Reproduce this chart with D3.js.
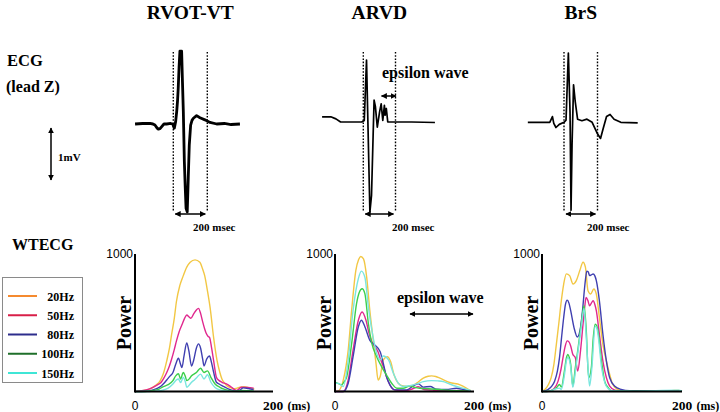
<!DOCTYPE html>
<html><head><meta charset="utf-8">
<script src="https://cdn.jsdelivr.net/npm/d3@7"></script>
<style>body{margin:0;background:#fff}svg{display:block}</style>
</head><body><svg id="c" width="720" height="412"></svg>
<script>
// ---------- DATA ----------
const conditions = ["RVOT-VT", "ARVD", "BrS"];
const freqLabels = ["20Hz", "50Hz", "80Hz", "100Hz", "150Hz"];
const seriesColors = ["#f2c744", "#e0288e", "#3f3fb0", "#3ccf4c", "#7ae6df"];
const legendColors = ["#f58a2f", "#d81f48", "#2d2d8c", "#1f6f2a", "#3fe6d6"];
const powerTicks = ["0", "1000"];
const timeTickLabel = "200";

// ECG (lead Z): [ms relative to QRS onset, mV]
const ecgRVOT = [[-225,0],[-180,0.01],[-137,0.01],[-120,0],[-108,-0.02],[-95,-0.08],[-88,-0.1],[-78,-0.09],[-68,-0.05],[-55,0],[-39,0],[-15,0.01],[-4,0],[6,-0.08],[14,0.05],[20,0.24],[25,0.45],[29,0.69],[34,1.1],[39,1.4],[49,1.4],[54,0.8],[59,0.24],[65,-0.72],[70,-1.2],[75,-1.62],[82,-1.69],[88,-1.04],[94,-0.4],[102,-0.02],[110,0.07],[118,0.11],[137,0.16],[157,0.12],[186,0.08],[216,0.03],[255,0],[300,0.01],[340,-0.01],[392,0]];
const ecgARVD = [[-256,0.1],[-202,0.1],[-170,0.06],[-141,0],[-10,0],[6,0.03],[20,1.19],[41,-1.73],[51,-1.41],[61,-0.26],[67,0.42],[75,0.3],[87,-0.1],[101,0.19],[111,0.35],[121,0.03],[131,0.32],[135,0.13],[143,0.26],[152,0],[162,0],[300,0],[445,-0.01]];
const ecgBrS = [[-216,0],[-120,0],[-85,0],[-69,0.11],[-61,-0.02],[-48,-0.1],[-28,-0.04],[0,0],[12,0.04],[26,1.33],[36,0.2],[42,-1.69],[48,-0.44],[57,0.72],[67,0.4],[81,0.06],[107,0.03],[137,0.06],[168,0],[198,-0.21],[218,-0.31],[234,-0.12],[254,0.11],[275,0.15],[299,0.06],[339,0],[440,-0.01]];

// WTECG power: [ms, power]
const rvot20 = [[0,0],[7,3],[15,10],[22,20],[30,45],[36,75],[41,130],[46,225],[50,320],[53,418],[57,540],[60,660],[65,780],[70,852],[75,915],[80,950],[87,968],[94,950],[98,900],[101,852],[105,740],[109,611],[114,394],[119,225],[123,140],[126,92],[130,60],[133,43],[138,28],[143,19],[148,25],[152,31],[158,35],[165,28],[171,19],[173,18]];
const rvot50 = [[0,0],[12,7],[20,18],[26,31],[33,50],[38,68],[42,100],[46,140],[50,190],[53,237],[57,310],[60,370],[64,440],[68,490],[72,540],[75,563],[78,550],[81,538],[85,570],[89,600],[92,611],[95,575],[98,514],[101,460],[103,430],[106,405],[108,398],[111,320],[114,225],[118,104],[122,80],[126,68],[133,55],[140,31],[147,7],[154,31],[163,30],[172,25]];
const rvot80 = [[0,0],[15,2],[25,10],[33,25],[38,40],[42,60],[46,85],[51,115],[55,140],[59,200],[63,244],[66,200],[68,176],[71,260],[75,357],[78,300],[82,188],[85,230],[89,320],[92,350],[95,320],[98,240],[100,188],[104,240],[108,261],[111,210],[114,140],[118,68],[122,55],[126,43],[131,30],[135,19],[141,8],[147,3],[152,10],[157,27],[164,22],[172,15]];
const rvot100 = [[0,0],[15,0],[27,8],[35,18],[41,36],[48,50],[55,80],[59,115],[63,130],[66,92],[70,140],[73,110],[75,80],[79,95],[82,116],[86,130],[89,140],[95,171],[100,140],[105,152],[110,104],[116,55],[123,31],[130,15],[137,5],[145,2],[155,8],[165,6],[172,4]];
const rvot150 = [[0,0],[20,0],[30,3],[40,10],[48,25],[55,55],[60,85],[63,92],[66,65],[70,104],[73,70],[75,31],[79,50],[82,68],[86,85],[89,100],[95,128],[100,92],[105,123],[110,68],[116,30],[123,12],[135,3],[150,0],[172,3]];

const arvd20 = [[0,2],[5,5],[12,85],[16,190],[19,305],[24,600],[30,890],[34,970],[37,993],[41,975],[45.6,840],[50,600],[55,378],[59,207],[62,85],[65,110],[69.5,232],[75,256],[80,220],[85,122],[91,61],[98,41],[108,37],[117.5,61],[127,98],[134,112],[139,115],[145,110],[151,98],[165,66],[180,49],[189.5,24],[195,7]];
const arvd50 = [[0,0],[12,0],[19,85],[26,305],[33.6,524],[39,585],[44.6,524],[49,427],[53,366],[57.5,330],[62,290],[66,230],[70,180],[74,110],[79,49],[86,12],[100,5],[112,20],[120,35],[128,15],[140,10],[160,5],[180,8],[195,3]];
const arvd80 = [[0,0],[12,0],[19,61],[26,256],[33.6,476],[38,524],[43,476],[50,378],[57.5,341],[65,293],[69.5,207],[74,110],[79,49],[86,12],[103,12],[112.7,41],[120,56],[127,32],[137,37],[146,17],[160,15],[175,24],[185,15],[195,5]];
const arvd100 = [[0,66],[4,60],[9.6,49],[13,70],[17,110],[24,354],[31,646],[35,730],[39,756],[43,720],[48,500],[53,354],[60,256],[67,183],[74,122],[81.5,61],[89,24],[98,24],[108,41],[115,30],[122,24],[135,20],[150,15],[165,8],[180,5],[195,3]];
const arvd150 = [[0,60],[5,60],[12,37],[19,232],[26,598],[30,740],[33.6,830],[38,885],[43,840],[48,622],[53,451],[60,280],[65,232],[69.5,261],[73,255],[77,232],[84,134],[91,61],[98,37],[105,40],[112.7,49],[120,60],[127,73],[139,80],[148,78],[156,73],[165,55],[175,37],[189,17],[195,8]];

const brs20 = [[0,5],[4,15],[9,50],[13,100],[17,200],[20.5,347],[24,500],[27.6,667],[31,790],[34.8,865],[39.5,852],[44.3,790],[49,815],[54,889],[58.6,950],[62,914],[65.7,741],[69.5,717],[74,754],[77.6,717],[82,544],[87,347],[92,224],[96.7,126],[101,52],[108.6,15],[115,5],[130,3],[150,5],[170,4],[185,6],[195,8],[200,3]];
const brs50 = [[0,0],[10,2],[17,20],[23,76],[27,160],[30,249],[33,330],[36,372],[38.5,365],[41,335],[44,273],[47.6,249],[51,150],[55,298],[58.6,495],[61,620],[63,692],[65.5,670],[68,630],[70.5,650],[73,667],[75.5,640],[77.6,594],[82,421],[87,224],[92,101],[96.7,39],[104,10],[115,3],[150,4],[200,3]];
const brs80 = [[0,0],[8.6,15],[14,40],[18,76],[22,150],[25,249],[28,400],[31,544],[33.5,640],[36,672],[38.5,650],[41,594],[45.7,470],[50.5,401],[55,470],[58,600],[60,717],[62,820],[64,884],[66,880],[68,852],[70.5,858],[73,864],[75.5,850],[77.6,815],[82,667],[87,421],[92,224],[96.7,101],[104,39],[113,15],[125,5],[150,6],[175,5],[200,4]];
const brs100 = [[0,0],[10,2],[15,10],[20.5,27],[25,52],[27.6,32],[32,150],[35,250],[37,273],[39,250],[41,200],[44,39],[47.6,175],[51,298],[56,495],[60,630],[63,470],[66.7,101],[70.5,175],[73,380],[76,495],[78,485],[80,446],[85,224],[89.5,76],[94,32],[100,5],[130,3],[200,2]];
const brs150 = [[0,0],[10,2],[20,20],[25,25],[27.6,15],[32,120],[35,230],[37,250],[41,180],[44,30],[48,160],[51,280],[56,470],[60,610],[63,420],[66,150],[68,40],[71,160],[76,480],[78,470],[80,420],[85,180],[90,60],[95,20],[100,5],[130,3],[195,10],[200,2]];

const ecgSeries = [ecgRVOT, ecgARVD, ecgBrS];
const wtSeries = [
  [rvot20, rvot50, rvot80, rvot100, rvot150],
  [arvd20, arvd50, arvd80, arvd100, arvd150],
  [brs20, brs50, brs80, brs100, brs150]
];

// ---------- LAYOUT ----------
const serif = "'Liberation Serif','Times New Roman',serif";
const sans = "'Liberation Sans',Arial,sans-serif";
const svg = d3.select("#c");
const defs = svg.append("defs");
defs.append("marker").attr("id","ah").attr("viewBox","0 0 10 10").attr("refX",9).attr("refY",5)
  .attr("markerWidth",6).attr("markerHeight",6).attr("markerUnits","userSpaceOnUse").attr("orient","auto-start-reverse")
  .append("path").attr("d","M0,0L10,5L0,10z").attr("fill","#000");

function arrow(x1,y1,x2,y2,w){
  svg.append("line").attr("x1",x1).attr("y1",y1).attr("x2",x2).attr("y2",y2)
    .attr("stroke","#000").attr("stroke-width",w||1.5)
    .attr("marker-start","url(#ah)").attr("marker-end","url(#ah)");
}
function text(x,y,s,size,opts){
  opts = opts||{};
  return svg.append("text").attr("x",x).attr("y",y).text(s)
    .attr("font-family",opts.sans?sans:serif).attr("font-weight",opts.sans?"normal":"bold")
    .attr("font-size",size).attr("text-anchor",opts.anchor||"start").attr("fill","#000");
}

// left labels
text(7,66,"ECG",16.5);
text(6,92,"(lead Z)",16);
arrow(51,128,51,180,1.5);
text(58,161,"1mV",11);
text(12,250,"WTECG",16);

// ECG panels
const ecgLayout = [
  {x0:173.3, x1:207.3, base:124, sw:2.8, labelX:193},
  {x0:363.3, x1:395.5, base:122, sw:1.7, labelX:392},
  {x0:564, x1:597.5, base:122.3, sw:1.7, labelX:587}
];
ecgLayout.forEach((L,i)=>{
  const xs = d3.scaleLinear().domain([0,200]).range([L.x0,L.x1]);
  const ys = d3.scaleLinear().domain([0,1]).range([L.base,L.base-52]);
  text((L.x0+L.x1)/2,19,conditions[i],19.5,{anchor:"middle"});
  [0,200].forEach(t=>{
    svg.append("line").attr("x1",xs(t)).attr("x2",xs(t)).attr("y1",52).attr("y2",211)
      .attr("stroke","#000").attr("stroke-width",1.4).attr("stroke-dasharray","1.6,1.6");
  });
  svg.append("path").datum(ecgSeries[i])
    .attr("d",d3.line().x(d=>xs(d[0])).y(d=>ys(d[1])))
    .attr("fill","none").attr("stroke","#000").attr("stroke-width",L.sw).attr("stroke-linejoin","round");
  arrow(xs(0)+2,214,xs(200)-2,214,1.5);
  text(L.labelX,231,"200 msec",11);
});
// epsilon wave annotation on ARVD ECG
text(382,78,"epsilon wave",16);
arrow(381.5,96,396,96,1.5);

// WTECG panels
const wtLayout = [{ax:135, end:273},{ax:335, end:474},{ax:542, end:682}];
const plotBase = 391.5, plotTop = 254;
wtLayout.forEach((L,i)=>{
  const xs = d3.scaleLinear().domain([0,200]).range([L.ax,L.end]);
  const ys = d3.scaleLinear().domain([0,1000]).range([plotBase,plotTop+1.5]).clamp(true);
  const line = d3.line().x(d=>xs(d[0])).y(d=>ys(d[1])).curve(d3.curveMonotoneX);
  wtSeries[i].forEach((s,k)=>{
    svg.append("path").datum(s).attr("d",line).attr("fill","none")
      .attr("stroke",seriesColors[k]).attr("stroke-width",1.4);
  });
  svg.append("line").attr("x1",L.ax).attr("x2",L.ax).attr("y1",plotTop).attr("y2",plotBase+1)
    .attr("stroke","#000").attr("stroke-width",2);
  svg.append("line").attr("x1",L.ax).attr("x2",xs(200)).attr("y1",plotBase).attr("y2",plotBase)
    .attr("stroke","#000").attr("stroke-width",2);
  text(L.ax-2,258,powerTicks[1],12,{sans:true,anchor:"end"});
  text(L.ax,410,powerTicks[0],12,{sans:true,anchor:"middle"});
  text(xs(200),410,timeTickLabel,13.5,{anchor:"middle"});
  text(xs(200)+14.5,410,"(ms)",12);
  svg.append("text").attr("transform",`translate(${L.ax-4},323) rotate(-90)`)
    .attr("text-anchor","middle").attr("font-family",serif).attr("font-weight","bold")
    .attr("font-size",20).text("Power");
});
// epsilon wave annotation on ARVD WTECG
text(397,303,"epsilon wave",16);
arrow(410,314,473,314,1.5);

// legend
svg.append("rect").attr("x",2.5).attr("y",277.5).attr("width",80).attr("height",105)
  .attr("fill","#fff").attr("stroke","#8a8a8a").attr("stroke-width",1);
const ly = d3.scalePoint().domain(freqLabels).range([296,373]);
freqLabels.forEach((f,k)=>{
  svg.append("line").attr("x1",8).attr("x2",37).attr("y1",ly(f)).attr("y2",ly(f))
    .attr("stroke",legendColors[k]).attr("stroke-width",2);
  text(74,ly(f)+4.5,f,12,{anchor:"end"});
});
</script></body></html>
